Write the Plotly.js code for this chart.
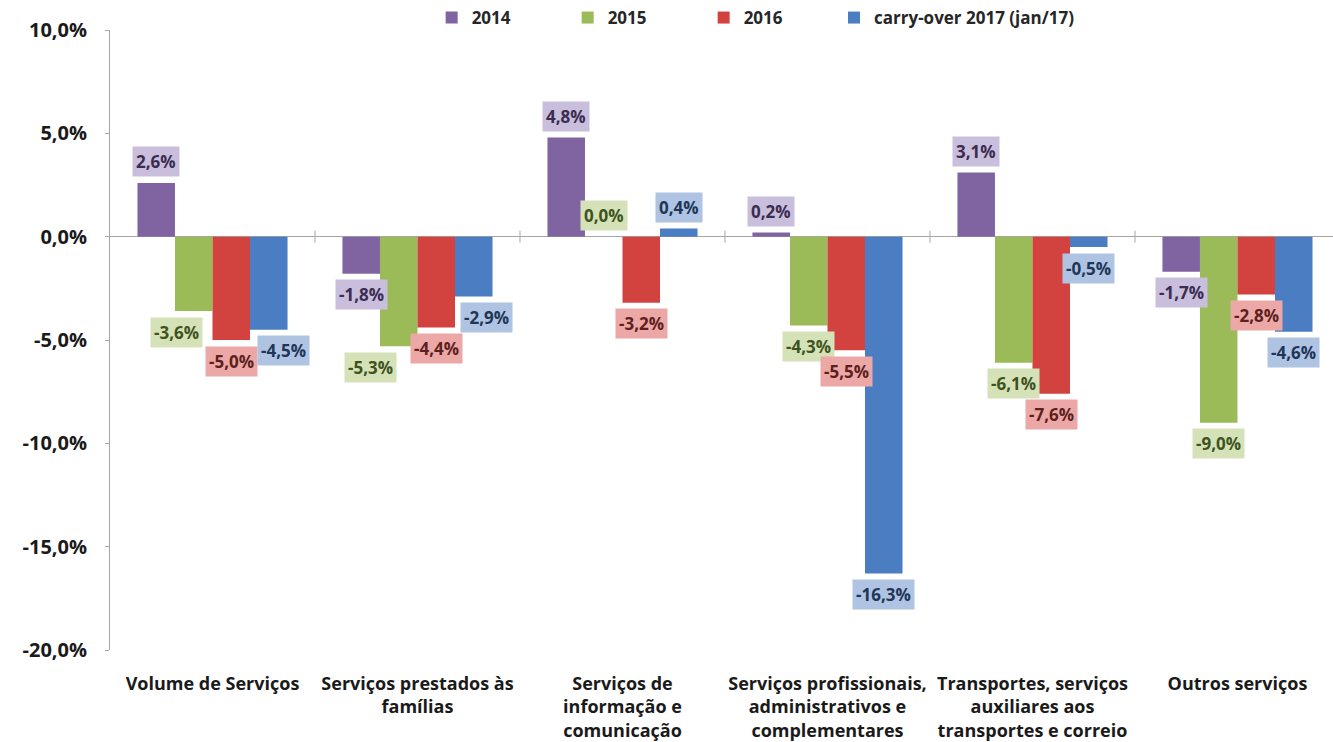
<!DOCTYPE html>
<html>
<head>
<meta charset="utf-8">
<script src="https://cdn.plot.ly/plotly-3.0.1.min.js"></script>
<style>html,body{margin:0;padding:0;background:#fff;}#chart{width:1333px;height:742px;}</style>
</head>
<body>
<div id="chart"></div>
<script>
const categories = [
  "Volume de Serviços",
  "Serviços prestados às<br>famílias",
  "Serviços de<br>informação e<br>comunicação",
  "Serviços profissionais,<br>administrativos e<br>complementares",
  "Transportes, serviços<br>auxiliares aos<br>transportes e correio",
  "Outros serviços"
];
const seriesNames = ["2014", "2015", "2016", "carry-over 2017 (jan/17)"];
const v2014 = [2.6, -1.8, 4.8, 0.2, 3.1, -1.7];
const v2015 = [-3.6, -5.3, 0.0, -4.3, -6.1, -9.0];
const v2016 = [-5.0, -4.4, -3.2, -5.5, -7.6, -2.8];
const v2017 = [-4.5, -2.9, 0.4, -16.3, -0.5, -4.6];
const yTickVals = [-20, -15, -10, -5, 0, 5, 10];

const fmt = v => v.toFixed(1).replace('.', ',') + '%';
const yTickText = yTickVals.map(fmt);

const values = [v2014, v2015, v2016, v2017];
const barColors = ['#8064A2', '#9BBB59', '#D2433F', '#4A7DC2'];
const boxColors = ['#C9BEDB', '#D5E2B8', '#EBA8A6', '#AEC4E2'];
const textColors = ['#3A2C52', '#3F5320', '#5E1F1D', '#1F3658'];
// label nudges (px) where the original moved labels aside
const nudge = {"0-1": -17, "0-3": 15, "1-1": -28, "1-3": 13};

const bargap = 0.268;
const bw = (1 - bargap) / 4;
const xIdx = categories.map((c, i) => i);

const traces = values.map((vals, k) => ({
  type: 'bar',
  name: seriesNames[k],
  x: xIdx,
  y: vals,
  marker: {color: barColors[k]},
  legend: k < 3 ? 'legend' : 'legend2',
  hoverinfo: 'skip'
}));

const annotations = [];
values.forEach((vals, k) => {
  vals.forEach((v, i) => {
    annotations.push({
      x: i + (k - 1.5) * bw,
      y: v,
      xref: 'x', yref: 'y',
      text: fmt(v),
      showarrow: false,
      yshift: v >= 0 ? 21 : -21,
      xshift: nudge[i + '-' + k] || 0,
      bgcolor: boxColors[k],
      borderpad: 3,
      font: {family: 'Open Sans, sans-serif', size: 17, weight: 'bold', color: textColors[k]}
    });
  });
});

const shapes = [];
for (let i = 0; i < categories.length - 1; i++) {
  shapes.push({
    type: 'line', xref: 'x', yref: 'y', ysizemode: 'pixel', yanchor: 0,
    x0: i + 0.5, x1: i + 0.5, y0: -6, y1: 6,
    line: {color: '#A6A6A6', width: 1}
  });
}

const legendFont = {family: 'Open Sans, sans-serif', size: 17, weight: 'bold', color: '#262626'};

const layout = {
  width: 1333, height: 742,
  margin: {l: 110, r: 0, t: 29, b: 92},
  paper_bgcolor: '#fff', plot_bgcolor: '#fff',
  barmode: 'group', bargap: bargap, bargroupgap: 0,
  showlegend: true,
  legend: {
    orientation: 'h', x: 0.263, xanchor: 'left', y: 1.02, yanchor: 'middle',
    entrywidth: 91, entrywidthmode: 'pixels',
    font: legendFont, bgcolor: 'rgba(0,0,0,0)'
  },
  legend2: {
    orientation: 'h', x: 0.592, xanchor: 'left', y: 1.02, yanchor: 'middle',
    font: legendFont, bgcolor: 'rgba(0,0,0,0)'
  },
  xaxis: {
    type: 'linear',
    range: [-0.5, 5.466],
    tickvals: xIdx, ticktext: categories,
    showgrid: false, zeroline: false, showline: false, ticks: '',
    tickfont: {family: 'Open Sans, sans-serif', size: 18, weight: 'bold', color: '#1a1a1a'},
    ticklabelstandoff: 21
  },
  yaxis: {
    range: [-20, 10],
    tickvals: yTickVals, ticktext: yTickText,
    showgrid: false,
    zeroline: true, zerolinecolor: '#A6A6A6', zerolinewidth: 1,
    showline: true, linecolor: '#A6A6A6', linewidth: 1,
    ticks: 'outside', ticklen: 4, tickcolor: '#A6A6A6',
    tickfont: {family: 'Open Sans, sans-serif', size: 20, weight: 'bold', color: '#1a1a1a'},
    ticklabelstandoff: 14
  },
  annotations: annotations,
  shapes: shapes
};

Plotly.newPlot('chart', traces, layout, {displayModeBar: false, staticPlot: true});
</script>
</body>
</html>
